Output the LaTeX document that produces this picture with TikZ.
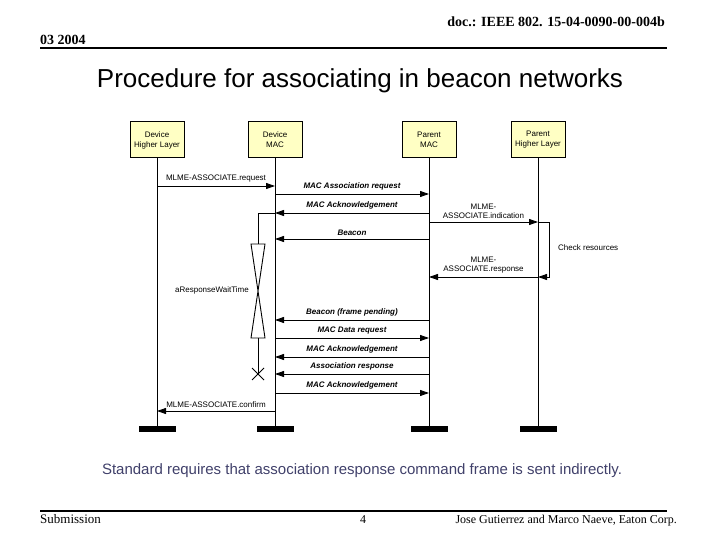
\documentclass[tikz,border=0pt]{standalone}
\usepackage{fontspec}
\setmainfont{Liberation Sans}
\newfontfamily\timesfont{Liberation Serif}
\usetikzlibrary{arrows.meta, positioning}
\definecolor{lifeFill}{HTML}{FFFFC4}
\definecolor{noteBlue}{HTML}{40406A}
\tikzset{
  lifeBox/.style={rectangle, draw=black, line width=1pt, fill=lifeFill,
                  align=center, font=\fontsize{8}{10}\selectfont,
                  inner sep=2pt, minimum width=54pt, minimum height=36pt},
  endBar/.style={rectangle, fill=black, inner sep=0pt,
                 minimum width=37pt, minimum height=6pt},
  lifeLine/.style={line width=0.9pt},
  arrowMsg/.style={-{Triangle[length=9pt, width=6pt]}, line width=0.9pt},
  msgLbl/.style={font=\fontsize{8}{9}\selectfont, inner sep=1pt, align=center},
  macLbl/.style={msgLbl, font=\fontsize{8}{9}\selectfont\bfseries\itshape},
  hdrText/.style={font=\timesfont\bfseries\fontsize{14}{16}\selectfont, inner sep=0pt},
  ftrText/.style={font=\timesfont\fontsize{12}{14}\selectfont, inner sep=0pt},
}
\begin{document}
\begin{tikzpicture}[x=1pt, y=-1pt]
  \useasboundingbox (0,0) rectangle (720,540);
  % page header and footer
  \node[hdrText, anchor=base east] (docId) at (665,27) {doc.: IEEE 802. 15-04-0090-00-004b};
  \node[hdrText, anchor=base west] (docDate) at (40,45) {03 2004};
  \draw[line width=2pt] (40,48) -- (667,48);
  \node[anchor=base, inner sep=0pt, font=\fontsize{26}{30}\selectfont] (title) at (360,88)
       {Procedure for associating in beacon networks};
  \node[anchor=base, inner sep=0pt, text=noteBlue, font=\fontsize{15}{18}\selectfont] (note) at (362,474)
       {Standard requires that association response command frame is sent indirectly.};
  \draw[line width=2pt] (40,511) -- (667,511);
  \node[ftrText, anchor=base west, font=\timesfont\fontsize{13}{15}\selectfont] (subm) at (40,523) {Submission};
  \node[ftrText, anchor=base] (pageNo) at (363,523) {4};
  \node[ftrText, anchor=base east] (authors) at (677,523) {Jose Gutierrez and Marco Naeve, Eaton Corp.};
  % lifelines
  \node[lifeBox] (dhl) at (157,140) {Device\\Higher Layer};
  \node[lifeBox, right=63pt of dhl] (dmac) {Device\\MAC};
  \node[lifeBox, right=99pt of dmac] (pmac) {Parent\\MAC};
  \node[lifeBox, right=54pt of pmac] (phl) {Parent\\Higher Layer};
  \foreach \l in {dhl, dmac, pmac, phl} {
    \node[endBar] (\l End) at (\l |- 0,429) {};
    \draw[lifeLine] (\l) -- (\l End);
  }
  % message points on each lifeline
  \foreach \k/\yy in {1/186, 2/194, 3/213, 4/222, 5/239, 6/277,
                      7/320, 8/338, 9/357, 10/374, 11/393, 12/411} {
    \foreach \l in {dhl, dmac, pmac, phl}
      \coordinate (\l-\k) at (\l |- 0,\yy);
  }
  \coordinate (waitTop) at (258,244);
  \coordinate (waitBot) at (258,338);
  \coordinate (waitEnd) at (258,374);
  \coordinate (chkTop) at (549,222);
  \coordinate (chkBot) at (549,277);
  % messages
  \draw[arrowMsg] (dhl-1) -- node[msgLbl, above=2pt] {MLME-ASSOCIATE.request} (dmac-1);
  \draw[arrowMsg] (dmac-2) -- node[macLbl, above=2pt] {MAC Association request} (pmac-2);
  \draw[arrowMsg] (pmac-3) -- node[macLbl, above=2pt] {MAC Acknowledgement} (dmac-3);
  \draw[arrowMsg] (pmac-4) -- node[msgLbl, above=2pt] {MLME-\\ASSOCIATE.indication} (phl-4);
  \draw[arrowMsg] (pmac-5) -- node[macLbl, above=2pt] {Beacon} (dmac-5);
  \draw[arrowMsg] (phl-6) -- node[msgLbl, above=2pt] {MLME-\\ASSOCIATE.response} (pmac-6);
  \draw[arrowMsg] (pmac-7) -- node[macLbl, above=2pt] {Beacon (frame pending)} (dmac-7);
  \draw[arrowMsg] (dmac-8) -- node[macLbl, above=2pt] {MAC Data request} (pmac-8);
  \draw[arrowMsg] (pmac-9) -- node[macLbl, above=2pt] {MAC Acknowledgement} (dmac-9);
  \draw[arrowMsg] (pmac-10) -- node[macLbl, above=2pt] {Association response} (dmac-10);
  \draw[arrowMsg] (dmac-11) -- node[macLbl, above=2pt] {MAC Acknowledgement} (pmac-11);
  \draw[arrowMsg] (dmac-12) -- node[msgLbl, above=2pt] {MLME-ASSOCIATE.confirm} (dhl-12);
  % check resources loop
  \draw[arrowMsg] (phl-4) -- (chkTop) -- (chkBot) -- (phl-6);
  \node[msgLbl, anchor=west] (chkLbl) at (557,248) {Check resources};
  % response wait timer
  \draw[lifeLine] (dmac-3) -| (waitTop);
  \draw[lifeLine] ([xshift=-7]waitTop) -- ([xshift=7]waitTop) -- ([xshift=-7]waitBot)
                  -- ([xshift=7]waitBot) -- cycle;
  \draw[lifeLine] (waitBot) -- (waitEnd);
  \draw[lifeLine] ([shift={(-6,-6)}]waitEnd) -- ([shift={(6,6)}]waitEnd)
                  ([shift={(-6,6)}]waitEnd) -- ([shift={(6,-6)}]waitEnd);
  \node[msgLbl, anchor=east] (waitLbl) at (250,290) {aResponseWaitTime};
\end{tikzpicture}
\end{document}
